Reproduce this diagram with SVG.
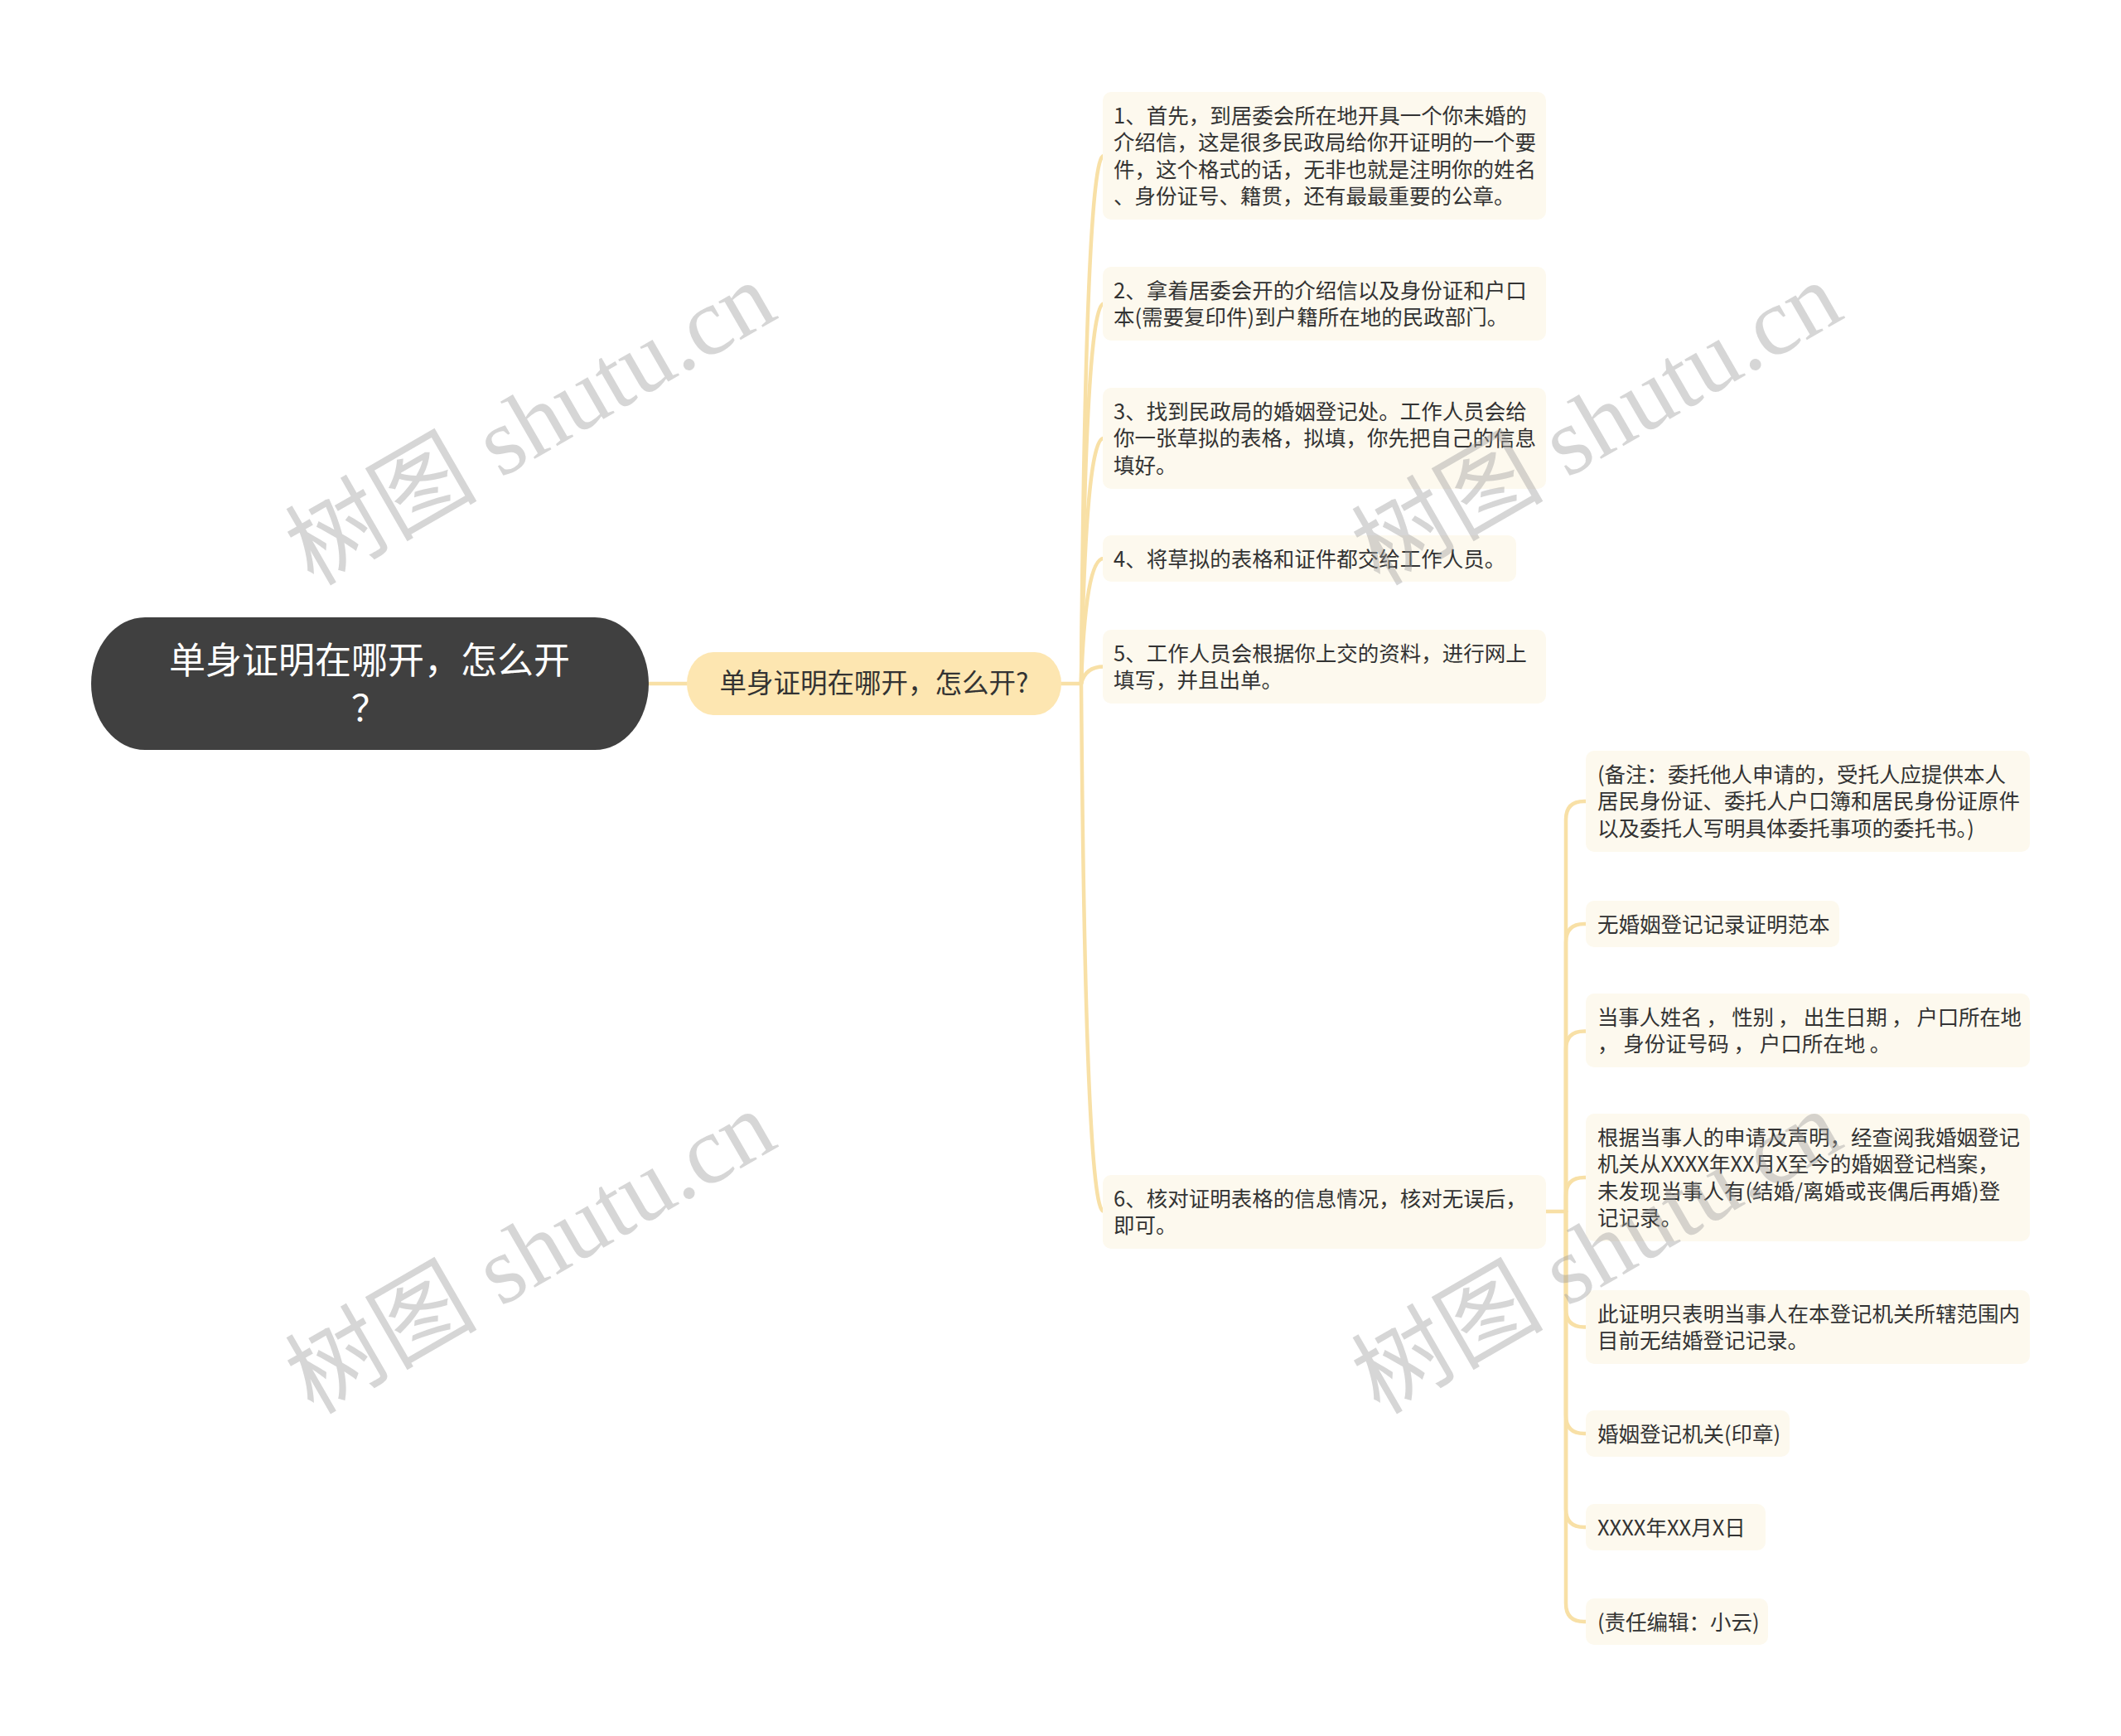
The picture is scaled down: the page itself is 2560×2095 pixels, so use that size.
<svg xmlns="http://www.w3.org/2000/svg" width="2560" height="2095" viewBox="0 0 2560 2095">
<style>
.t{font-family:"Noto Sans CJK SC","Noto Sans",sans-serif;font-size:25.5px;fill:#333333}
.leaf{fill:#FDF9EE}
.c{fill:none;stroke:#F8E0A6;stroke-width:4.5;stroke-linecap:round}
.wm{font-family:"Liberation Serif","Noto Sans CJK SC",serif;font-size:116px;fill:#999999;fill-opacity:0.4}
</style>
<rect width="2560" height="2095" fill="#ffffff"/>
<g id="connectors">
<path class="c" d="M783 825 H829"/>
<path class="c" d="M1281 825 H1305"/>
<path class="c" d="M1305 825 Q1310 188 1332 188"/>
<path class="c" d="M1305 825 Q1310 366.5 1332 366.5"/>
<path class="c" d="M1305 825 Q1310 529 1332 529"/>
<path class="c" d="M1305 825 Q1310 674 1332 674"/>
<path class="c" d="M1305 825 Q1310 804.5 1332 804.5"/>
<path class="c" d="M1305 825 Q1310 1462 1332 1462"/>
<path class="c" d="M1866 1462 H1890"/>
<path class="c" d="M1890 1462 V989 Q1890 967 1912 967 H1915"/>
<path class="c" d="M1890 1462 V1137 Q1890 1115 1912 1115 H1915"/>
<path class="c" d="M1890 1462 V1266.5 Q1890 1244.5 1912 1244.5 H1915"/>
<path class="c" d="M1890 1462 V1443 Q1890 1421 1912 1421 H1915"/>
<path class="c" d="M1890 1462 V1579.5 Q1890 1601.5 1912 1601.5 H1915"/>
<path class="c" d="M1890 1462 V1708 Q1890 1730 1912 1730 H1915"/>
<path class="c" d="M1890 1462 V1821 Q1890 1843 1912 1843 H1915"/>
<path class="c" d="M1890 1462 V1935 Q1890 1957 1912 1957 H1915"/>
</g>
<g id="root">
<rect x="110" y="745" width="673" height="160" rx="65" ry="80" fill="#404040"/>
<text x="446" y="813" text-anchor="middle" font-family="Noto Sans CJK SC, sans-serif" font-size="44" fill="#ffffff">单身证明在哪开，怎么开</text>
<text x="446" y="871" text-anchor="middle" font-family="Noto Sans CJK SC, sans-serif" font-size="44" fill="#ffffff">？</text>
</g>
<g id="main">
<rect x="829" y="787" width="452" height="76" rx="32" ry="38" fill="#FDE6B1"/>
<text x="1055" y="836" text-anchor="middle" font-family="Noto Sans CJK SC, sans-serif" font-size="32.5" fill="#333333">单身证明在哪开，怎么开?</text>
</g>
<g id="step1">
<rect class="leaf" x="1331" y="111" width="535" height="154" rx="10"/>
<text class="t" x="1344" y="148.5">1、首先，到居委会所在地开具一个你未婚的</text>
<text class="t" x="1344" y="181">介绍信，这是很多民政局给你开证明的一个要</text>
<text class="t" x="1344" y="213.5">件，这个格式的话，无非也就是注明你的姓名</text>
<text class="t" x="1344" y="246">、身份证号、籍贯，还有最最重要的公章。</text>
</g>
<g id="step2">
<rect class="leaf" x="1331" y="322" width="535" height="89" rx="10"/>
<text class="t" x="1344" y="359.5">2、拿着居委会开的介绍信以及身份证和户口</text>
<text class="t" x="1344" y="392">本(需要复印件)到户籍所在地的民政部门。</text>
</g>
<g id="step3">
<rect class="leaf" x="1331" y="468" width="535" height="122" rx="10"/>
<text class="t" x="1344" y="505.5">3、找到民政局的婚姻登记处。工作人员会给</text>
<text class="t" x="1344" y="538">你一张草拟的表格，拟填，你先把自己的信息</text>
<text class="t" x="1344" y="570.5">填好。</text>
</g>
<g id="step4">
<rect class="leaf" x="1331" y="646" width="499" height="56" rx="10"/>
<text class="t" x="1344" y="683.5">4、将草拟的表格和证件都交给工作人员。</text>
</g>
<g id="step5">
<rect class="leaf" x="1331" y="760" width="535" height="89" rx="10"/>
<text class="t" x="1344" y="797.5">5、工作人员会根据你上交的资料，进行网上</text>
<text class="t" x="1344" y="830">填写，并且出单。</text>
</g>
<g id="step6">
<rect class="leaf" x="1331" y="1418" width="535" height="89" rx="10"/>
<text class="t" x="1344" y="1455.5">6、核对证明表格的信息情况，核对无误后，</text>
<text class="t" x="1344" y="1488">即可。</text>
</g>
<g id="note">
<rect class="leaf" x="1914" y="906" width="536" height="122" rx="10"/>
<text class="t" x="1928" y="943.5">(备注：委托他人申请的，受托人应提供本人</text>
<text class="t" x="1928" y="976">居民身份证、委托人户口簿和居民身份证原件</text>
<text class="t" x="1928" y="1008.5">以及委托人写明具体委托事项的委托书。)</text>
</g>
<g id="sample">
<rect class="leaf" x="1914" y="1087" width="306" height="56" rx="10"/>
<text class="t" x="1928" y="1124.5">无婚姻登记记录证明范本</text>
</g>
<g id="fields">
<rect class="leaf" x="1914" y="1199" width="536" height="89" rx="10"/>
<text class="t" x="1928" y="1236.5" xml:space="preserve" textLength="512" lengthAdjust="spacing">当事人姓名 ， 性别 ， 出生日期 ， 户口所在地</text>
<text class="t" x="1928" y="1269" xml:space="preserve">， 身份证号码 ， 户口所在地 。</text>
</g>
<g id="statement">
<rect class="leaf" x="1914" y="1344" width="536" height="154" rx="10"/>
<text class="t" x="1928" y="1381.5">根据当事人的申请及声明，经查阅我婚姻登记</text>
<text class="t" x="1928" y="1414">机关从XXXX年XX月X至今的婚姻登记档案，</text>
<text class="t" x="1928" y="1446.5">未发现当事人有(结婚/离婚或丧偶后再婚)登</text>
<text class="t" x="1928" y="1479">记记录。</text>
</g>
<g id="scope">
<rect class="leaf" x="1914" y="1557" width="536" height="89" rx="10"/>
<text class="t" x="1928" y="1594.5">此证明只表明当事人在本登记机关所辖范围内</text>
<text class="t" x="1928" y="1627">目前无结婚登记记录。</text>
</g>
<g id="seal">
<rect class="leaf" x="1914" y="1702" width="246" height="56" rx="10"/>
<text class="t" x="1928" y="1739.5">婚姻登记机关(印章)</text>
</g>
<g id="date">
<rect class="leaf" x="1914" y="1815" width="217" height="56" rx="10"/>
<text class="t" x="1928" y="1852.5">XXXX年XX月X日</text>
</g>
<g id="editor">
<rect class="leaf" x="1914" y="1929" width="220" height="56" rx="10"/>
<text class="t" x="1928" y="1966.5">(责任编辑：小云)</text>
</g>
<g id="watermarks">
<text class="wm" x="378" y="708" transform="rotate(-30 378 708)">树图 shutu.cn</text>
<text class="wm" x="1665" y="708" transform="rotate(-30 1665 708)">树图 shutu.cn</text>
<text class="wm" x="378" y="1708" transform="rotate(-30 378 1708)">树图 shutu.cn</text>
<text class="wm" x="1665" y="1708" transform="rotate(-30 1665 1708)">树图 shutu.cn</text>
</g>
</svg>
